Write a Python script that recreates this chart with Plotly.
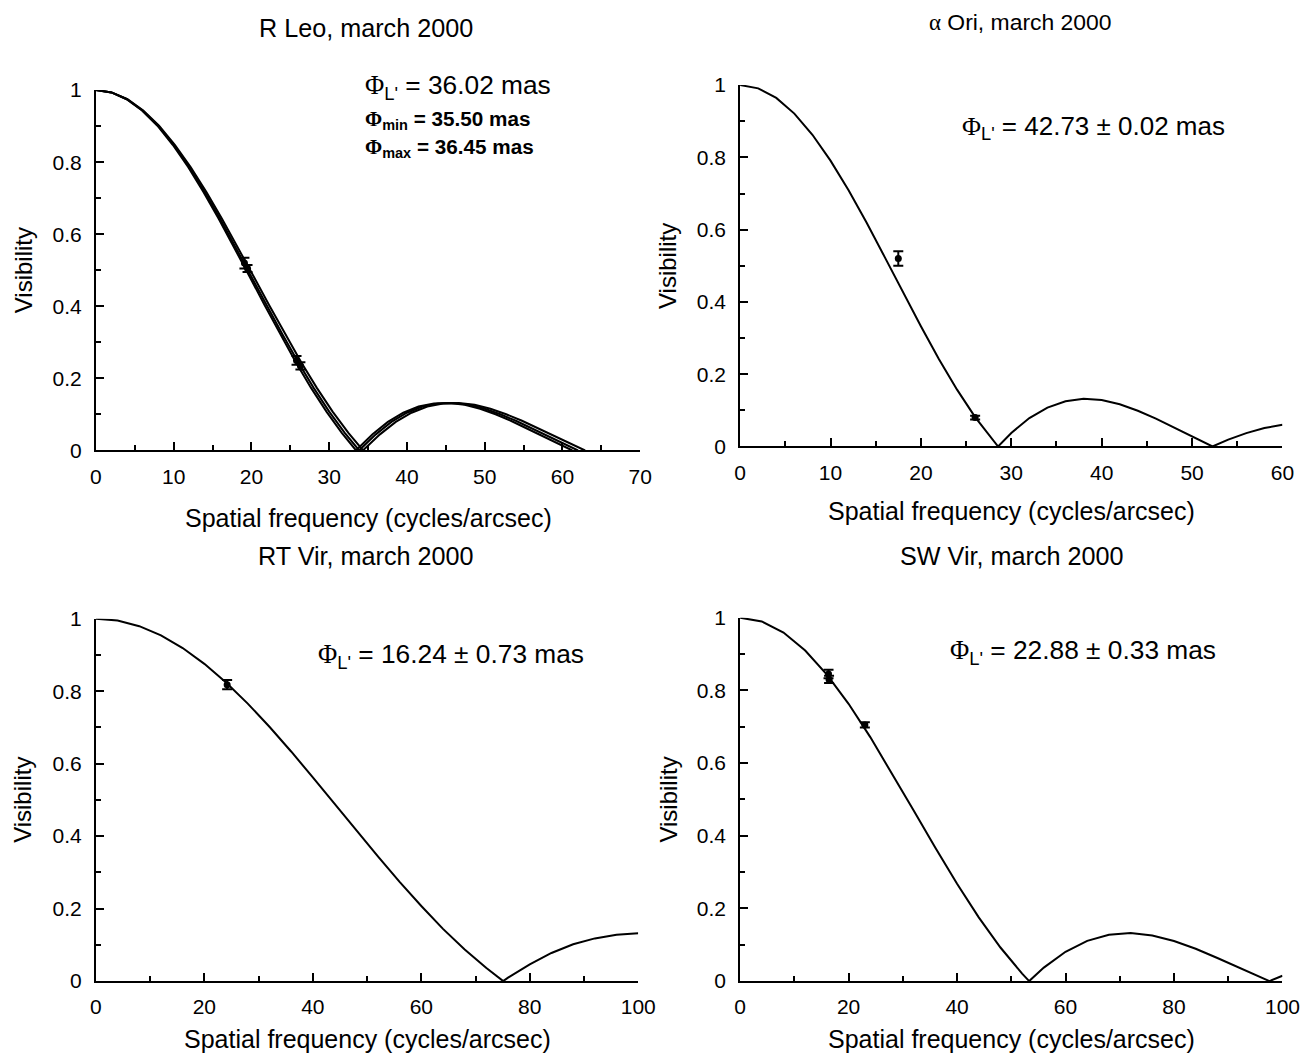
import plotly.graph_objects as go

# ---------------- data ----------------
# R Leo : best fit curve (phi = 36.02 mas)
rleo_x = [0, 2, 4, 6, 8, 10, 12, 14, 16, 18, 20, 22, 24, 26, 28, 30, 32, 33.86,
          34, 36, 38, 40, 42, 44, 46, 48, 50, 52, 54, 56, 58, 60, 62]
rleo_y = [1, 0.9936, 0.9746, 0.9435, 0.9011, 0.8483, 0.7865, 0.7174, 0.6425, 0.5636,
          0.4828, 0.4015, 0.3218, 0.2454, 0.1737, 0.1079, 0.0490, 0.0,
          0.0033, 0.0448, 0.0793, 0.1047, 0.1219, 0.1302, 0.1320, 0.1270, 0.1160,
          0.1006, 0.0826, 0.0624, 0.0414, 0.0203, 0.0]
# R Leo : curves for phi_min (35.50 mas) and phi_max (36.45 mas), same visibilities
rleo_xmin = [0, 2.03, 4.06, 6.09, 8.12, 10.15, 12.18, 14.21, 16.23, 18.26, 20.29, 22.32,
             24.35, 26.38, 28.41, 30.44, 32.47, 34.36, 34.50, 36.53, 38.56, 40.59, 42.62,
             44.64, 46.67, 48.70, 50.73, 52.76, 54.79, 56.82, 58.85, 60.88, 62.91]
rleo_xmax = [0, 1.98, 3.95, 5.93, 7.91, 9.88, 11.86, 13.83, 15.81, 17.79, 19.76, 21.74,
             23.72, 25.69, 27.67, 29.65, 31.62, 33.46, 33.60, 35.58, 37.55, 39.53, 41.50,
             43.48, 45.46, 47.43, 49.41, 51.39, 53.36, 55.34, 57.32, 59.29, 61.27]
rleo_px = [19.1, 19.5, 25.8, 26.3]
rleo_py = [0.52, 0.505, 0.25, 0.235]
rleo_pe = [0.015, 0.010, 0.012, 0.010]

# alpha Ori (phi = 42.73 mas)
aori_x = [0, 2, 4, 6, 8, 10, 12, 14, 16, 18, 20, 22, 24, 26, 28, 28.54,
          30, 32, 34, 36, 38, 40, 42, 44, 46, 48, 50, 52, 52.26, 54, 56, 58, 60]
aori_y = [1, 0.9910, 0.9644, 0.9211, 0.8626, 0.7910, 0.7089, 0.6189, 0.5240, 0.4278,
          0.3327, 0.2417, 0.1572, 0.0812, 0.0158, 0.0,
          0.0374, 0.0788, 0.1076, 0.1253, 0.1322, 0.1288, 0.1170, 0.0990, 0.0770,
          0.0525, 0.0275, 0.0031, 0.0, 0.0189, 0.0371, 0.0510, 0.0601]
aori_px = [17.5, 26.0]
aori_py = [0.52, 0.08]
aori_pe = [0.020, 0.005]

# RT Vir (phi = 16.24 mas)
rtvir_x = [0, 4, 8, 12, 16, 20, 24, 28, 32, 36, 40, 44, 48, 52, 56, 60, 64, 68, 72, 75.1,
           76, 80, 84, 88, 92, 96, 100]
rtvir_y = [1, 0.9948, 0.9793, 0.9539, 0.9190, 0.8754, 0.8239, 0.7657, 0.7018, 0.6336,
           0.5621, 0.4893, 0.4160, 0.3439, 0.2739, 0.2071, 0.1441, 0.0871, 0.0363, 0.0,
           0.0096, 0.0462, 0.0776, 0.1015, 0.1178, 0.1276, 0.1322]
rtvir_px = [24.2]
rtvir_py = [0.818]
rtvir_pe = [0.013]

# SW Vir (phi = 22.88 mas)
swvir_x = [0, 4, 8, 12, 16, 20, 24, 28, 32, 36, 40, 44, 48, 52, 53.3,
           56, 60, 64, 68, 72, 76, 80, 84, 88, 92, 96, 97.6, 100]
swvir_y = [1, 0.9897, 0.9592, 0.9098, 0.8435, 0.7630, 0.6714, 0.5722, 0.4695, 0.3669,
           0.2679, 0.1755, 0.0924, 0.0207, 0.0,
           0.0371, 0.0808, 0.1107, 0.1273, 0.1321, 0.1255, 0.1103, 0.0889, 0.0635,
           0.0367, 0.0103, 0.0, 0.0148]
swvir_px = [16.3, 16.4, 23.0]
swvir_py = [0.845, 0.830, 0.705]
swvir_pe = [0.012, 0.010, 0.007]

titles = ["R Leo, march 2000", "<span style='font-family:Liberation Serif'>α</span> Ori, march 2000",
          "RT Vir, march 2000", "SW Vir, march 2000"]
y_ticks = [0, 0.2, 0.4, 0.6, 0.8, 1]
y_ticktext = ["0", "0.2", "0.4", "0.6", "0.8", "1"]

# ---------------- figure ----------------
FONT = "Liberation Sans, Arial, sans-serif"
BLACK = "#000000"
FW, FH = 1320, 1075
# mapping of figure pixels to the photographed page (measured)
AX, BX = 0.983, 5.0
AY, BY = 0.9775, 12.0

fig = go.Figure()

def px2x(s):
    return ((s - BX) / AX) / FW

def px2y(s):
    return 1 - ((s - BY) / AY) / FH

# panel pixel geometry on the photograph: (x0, x1, ybottom, ytop)
panels = [
    (95, 640, 450, 90),
    (740, 1283, 446, 85),
    (95, 638, 980, 618),
    (740, 1283, 980, 617),
]
xranges = [(0, 70, 10, 5), (0, 60, 10, 5), (0, 100, 20, 10), (0, 100, 20, 10)]
xtitle_y = [517, 510, 1038, 1038]
ytitle_x = [22, 668, 22, 668]

line_kw = dict(color=BLACK, width=2)

def add_curve(x, y, i):
    fig.add_trace(go.Scatter(x=x, y=y, mode="lines", line=line_kw,
                             xaxis=f"x{i if i > 1 else ''}", yaxis=f"y{i if i > 1 else ''}",
                             showlegend=False, hoverinfo="skip"))

def add_points(x, y, e, i):
    fig.add_trace(go.Scatter(x=x, y=y, mode="markers",
                             marker=dict(color=BLACK, size=7, symbol="circle"),
                             error_y=dict(type="data", array=e, visible=True, color=BLACK,
                                          thickness=2, width=5),
                             xaxis=f"x{i if i > 1 else ''}", yaxis=f"y{i if i > 1 else ''}",
                             showlegend=False))

add_curve(rleo_xmin, rleo_y, 1)
add_curve(rleo_xmax, rleo_y, 1)
add_curve(rleo_x, rleo_y, 1)
add_points(rleo_px, rleo_py, rleo_pe, 1)
add_curve(aori_x, aori_y, 2)
add_points(aori_px, aori_py, aori_pe, 2)
add_curve(rtvir_x, rtvir_y, 3)
add_points(rtvir_px, rtvir_py, rtvir_pe, 3)
add_curve(swvir_x, swvir_y, 4)
add_points(swvir_px, swvir_py, swvir_pe, 4)

layout = dict(width=FW, height=FH, autosize=False,
              margin=dict(l=0, r=0, t=0, b=0),
              paper_bgcolor="white", plot_bgcolor="white",
              font=dict(family=FONT, size=21, color=BLACK))

annotations = []
for i, ((x0, x1, yb, yt), (xr0, xr1, dt, mdt)) in enumerate(zip(panels, xranges), start=1):
    sfx = "" if i == 1 else str(i)
    layout[f"xaxis{sfx}"] = dict(
        domain=[px2x(x0), px2x(x1)], range=[xr0, xr1], anchor=f"y{sfx}",
        showline=True, linecolor=BLACK, linewidth=2, showgrid=False, zeroline=False,
        ticks="inside", ticklen=8, tickwidth=2, tickcolor=BLACK, dtick=dt, tick0=0,
        minor=dict(ticks="inside", ticklen=5, tickwidth=2, tickcolor=BLACK, dtick=mdt, showgrid=False),
        ticklabelstandoff=6,
        tickfont=dict(size=21, family=FONT), fixedrange=True)
    layout[f"yaxis{sfx}"] = dict(
        domain=[px2y(yb), px2y(yt)], range=[0, 1], anchor=f"x{sfx}",
        showline=True, linecolor=BLACK, linewidth=2, showgrid=False, zeroline=False,
        ticks="inside", ticklen=8, tickwidth=2, tickcolor=BLACK,
        tickvals=y_ticks, ticktext=y_ticktext,
        minor=dict(ticks="inside", ticklen=5, tickwidth=2, tickcolor=BLACK, dtick=0.1, showgrid=False),
        ticklabelstandoff=8,
        tickfont=dict(size=21, family=FONT), fixedrange=True)
    # x axis title
    annotations.append(dict(text="Spatial frequency (cycles/arcsec)", xref="paper", yref="paper",
                            x=px2x((x0 + x1) / 2), y=px2y(xtitle_y[i - 1]), xanchor="center",
                            yanchor="middle", showarrow=False, font=dict(size=25, family=FONT)))
    # y axis title
    annotations.append(dict(text="Visibility", xref="paper", yref="paper", textangle=-90,
                            x=px2x(ytitle_x[i - 1]), y=px2y((yb + yt) / 2), xanchor="center",
                            yanchor="middle", showarrow=False, font=dict(size=24, family=FONT)))

title_pos = [(365, 28, 25.2), (1020, 22, 22.9), (365, 555, 25.2), (1012, 555, 25.2)]
for t, (tx, ty, fs) in zip(titles, title_pos):
    annotations.append(dict(text=t, xref="paper", yref="paper", x=px2x(tx), y=px2y(ty),
                            xanchor="center", yanchor="middle", showarrow=False,
                            font=dict(size=fs, family=FONT)))

PHI = "<span style='font-family:Liberation Serif'>Φ</span>"
phi_notes = [
    (PHI + "<sub>L'</sub> = 36.02 mas", 362, 87, 26.3, False),
    (PHI + "<sub>min</sub> = 35.50 mas", 362, 120, 20.7, True),
    (PHI + "<sub>max</sub> = 36.45 mas", 362, 148, 20.7, True),
    (PHI + "<sub>L'</sub> = 42.73 ± 0.02 mas", 960, 127, 26.0, False),
    (PHI + "<sub>L'</sub> = 16.24 ± 0.73 mas", 315, 655, 26.3, False),
    (PHI + "<sub>L'</sub> = 22.88 ± 0.33 mas", 948, 651, 26.3, False),
]
for txt, tx, ty, fs, bold in phi_notes:
    annotations.append(dict(text=("<b>" + txt + "</b>") if bold else txt,
                            xref="paper", yref="paper", x=px2x(tx), y=px2y(ty),
                            xanchor="left", yanchor="middle", showarrow=False,
                            font=dict(size=fs, family=FONT)))

layout["annotations"] = annotations
fig.update_layout(**layout)
fig.write_html("out.html")
